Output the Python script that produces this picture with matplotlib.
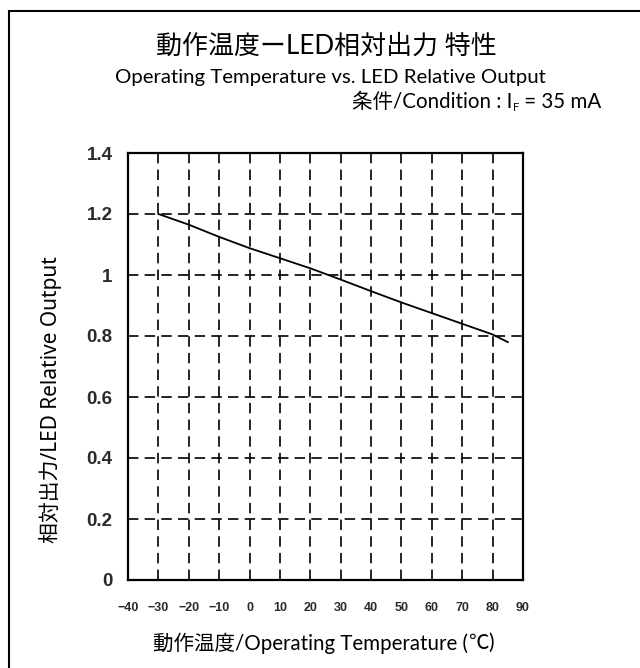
import matplotlib
matplotlib.use("Agg")
import matplotlib.pyplot as plt
from matplotlib.patches import Rectangle

# Relative LED output vs. operating temperature (I_F = 35 mA)
temperature = [-30, -20, -10, 0, 10, 20, 30, 40, 50, 60, 70, 80, 85]
relative_output = [1.20, 1.165, 1.125, 1.088, 1.055, 1.022, 0.985, 0.947,
                   0.910, 0.875, 0.840, 0.805, 0.780]

x_ticks = [-40, -30, -20, -10, 0, 10, 20, 30, 40, 50, 60, 70, 80, 90]
y_ticks = [0, 0.2, 0.4, 0.6, 0.8, 1.0, 1.2, 1.4]
y_tick_labels = ["0", "0.2", "0.4", "0.6", "0.8", "1", "1.2", "1.4"]

title_jp = "動作温度ーLED相対出力 特性"
title_en = "Operating Temperature vs. LED Relative Output"
x_label_main = "動作温度/Operating Temperature ("
x_label_unit = "℃"
y_label = "相対出力/LED Relative Output"

plt.rcParams["lines.scale_dashes"] = False
W, H = 640, 668
fig = plt.figure(figsize=(W / 100, H / 100), dpi=100)

text_font = ["Lato", "Noto Sans CJK JP", "DejaVu Sans"]
cjk_font = ["Noto Sans CJK JP", "DejaVu Sans"]
ylab_font = ["Noto Sans", "Noto Sans CJK JP", "DejaVu Sans"]
tick_font = ["Liberation Sans Narrow", "Liberation Sans", "DejaVu Sans"]

# outer frame
fig.add_artist(Rectangle((9 / W, -0.1), 2.0, (H - 11) / H + 0.1,
                         transform=fig.transFigure, fill=False,
                         edgecolor="black", lw=1.5))

left, right, top, bottom = 128, 523, 153, 580
ax = fig.add_axes([left / W, (H - bottom) / H, (right - left) / W,
                   (bottom - top) / H])

ax.plot(temperature, relative_output, color="black", lw=1.3)

ax.set_xlim(-40, 90)
ax.set_ylim(0, 1.4)
ax.set_xticks(x_ticks)
ax.set_xticklabels([str(v).replace("-", "\u2212") for v in x_ticks],
                   family=tick_font, fontsize=9, fontweight="bold",
                   color="#2a2a2a")
ax.set_yticks(y_ticks)
ax.set_yticklabels(y_tick_labels, family=tick_font, fontsize=13.5,
                   fontweight="bold", color="#2a2a2a")
ax.tick_params(axis="both", length=0)
ax.tick_params(axis="x", pad=16)
ax.tick_params(axis="y", pad=11)

ax.grid(True, color="black", lw=1.2, linestyle=(0, (7.5, 4.5)))
ax.set_axisbelow(True)
for s in ax.spines.values():
    s.set_linewidth(1.6)
    s.set_zorder(5)

fig.text(326 / W, (H - 46) / H, title_jp, ha="center", va="center",
         family=text_font, fontsize=18.7)
fig.text(330 / W, (H - 77) / H, title_en, ha="center", va="center",
         family=text_font, fontsize=14.7)

cond = fig.text(352 / W, (H - 102) / H, "条件/Condition : I", ha="left",
                va="center", family=text_font, fontsize=14.8)
sub = ax.annotate("F", xy=(1, 0), xycoords=cond, xytext=(0.5, -1),
                  textcoords="offset points", ha="left", va="bottom",
                  family=text_font, fontsize=8, annotation_clip=False)
ax.annotate(" = 35 mA", xy=(1, 0), xycoords=sub, xytext=(0, 1),
            textcoords="offset points", ha="left", va="bottom",
            family=text_font, fontsize=14.8, annotation_clip=False)

xl = fig.text(153 / W, (H - 643) / H, x_label_main, ha="left", va="center",
              family=text_font, fontsize=14.8)
xu = ax.annotate(x_label_unit, xy=(1, 0.5), xycoords=xl, ha="left",
                 va="center", family=cjk_font, fontsize=14.8,
                 annotation_clip=False)
ax.annotate(")", xy=(1, 0.5), xycoords=xu, ha="left", va="center",
            family=text_font, fontsize=14.8, annotation_clip=False)

fig.text(50 / W, (H - 400) / H, y_label, ha="center", va="center",
         rotation=90, family=ylab_font, fontsize=15)

fig.savefig("out.png", dpi=100)
